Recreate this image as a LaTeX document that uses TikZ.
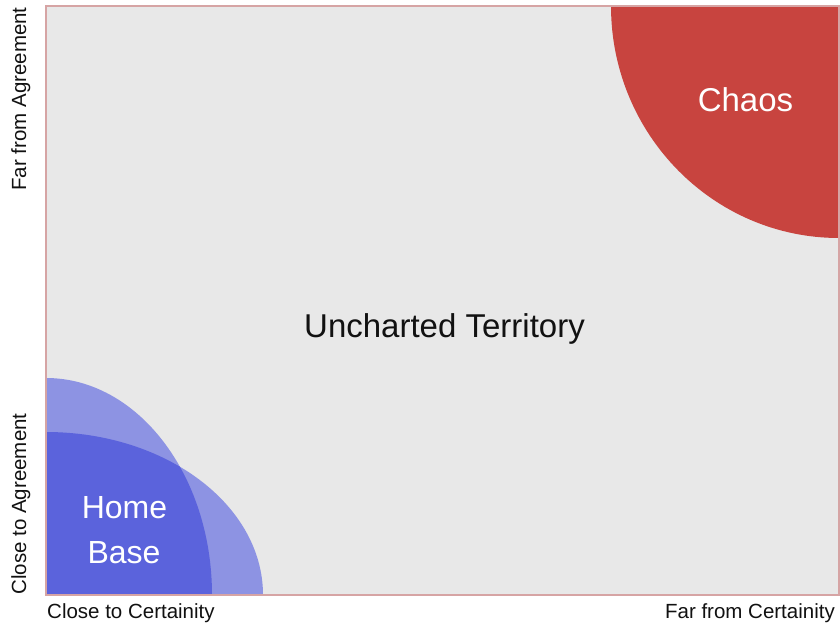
\documentclass[tikz,border=0pt]{standalone}
\usepackage{fontspec}
\setmainfont{Liberation Sans}
\definecolor{plotbg}{HTML}{E8E8E8}
\definecolor{framecol}{HTML}{D6A4A4}
\definecolor{chaosred}{HTML}{C8443F}
\definecolor{homedark}{HTML}{5B63DC}
\definecolor{homelight}{HTML}{8D93E3}
\definecolor{inkcol}{HTML}{111111}
\begin{document}
\begin{tikzpicture}[x=1pt,y=-1pt,
  bigtext/.style={inner sep=0pt,font=\fontsize{33}{39}\selectfont},
  hometext/.style={inner sep=0pt,text=white,font=\fontsize{32}{38}\selectfont},
  axislabel/.style={inner sep=0pt,text=inkcol,font=\fontsize{20.5}{24}\selectfont},
  frame/.style={draw=framecol,line width=1.4pt}]
\useasboundingbox (0,0) rectangle (840,626);
\coordinate (tl) at (46,6);
\coordinate (br) at (839,595);
\coordinate (origin) at (46,595);
\coordinate (far) at (839,6);
% plotting area
\fill[plotbg] (tl) rectangle (br);
\begin{scope}
  \clip (tl) rectangle (br);
  % chaos region in the far corner
  \fill[chaosred] (far) ellipse [x radius=228, y radius=232];
  % home base: two overlapping quarter ellipses
  \fill[homelight] (origin) ellipse [x radius=166, y radius=217];
  \fill[homelight] (origin) ellipse [x radius=217, y radius=163];
  \begin{scope}
    \clip (origin) ellipse [x radius=166, y radius=217];
    \fill[homedark] (origin) ellipse [x radius=217, y radius=163];
  \end{scope}
\end{scope}
\draw[frame] (tl) rectangle (br);
% region labels
\node[bigtext,text=inkcol,anchor=base] (uncharted) at (444.5,337) {Uncharted Territory};
\node[bigtext,text=white,anchor=base] (chaos) at (745.5,111) {Chaos};
\node[hometext,anchor=base] (home) at (124.5,518) {Home};
\node[hometext,anchor=base] (base) at (124,563) {Base};
% axis labels
\node[axislabel,anchor=base west] (xlow) at (47,618) {Close to Certainity};
\node[axislabel,anchor=base east] (xhigh) at (835,618) {Far from Certainity};
\node[axislabel,anchor=base,rotate=90] (ylow) at (26,504) {Close to Agreement};
\node[axislabel,anchor=base,rotate=90] (yhigh) at (26,99) {Far from Agreement};
\end{tikzpicture}
\end{document}
